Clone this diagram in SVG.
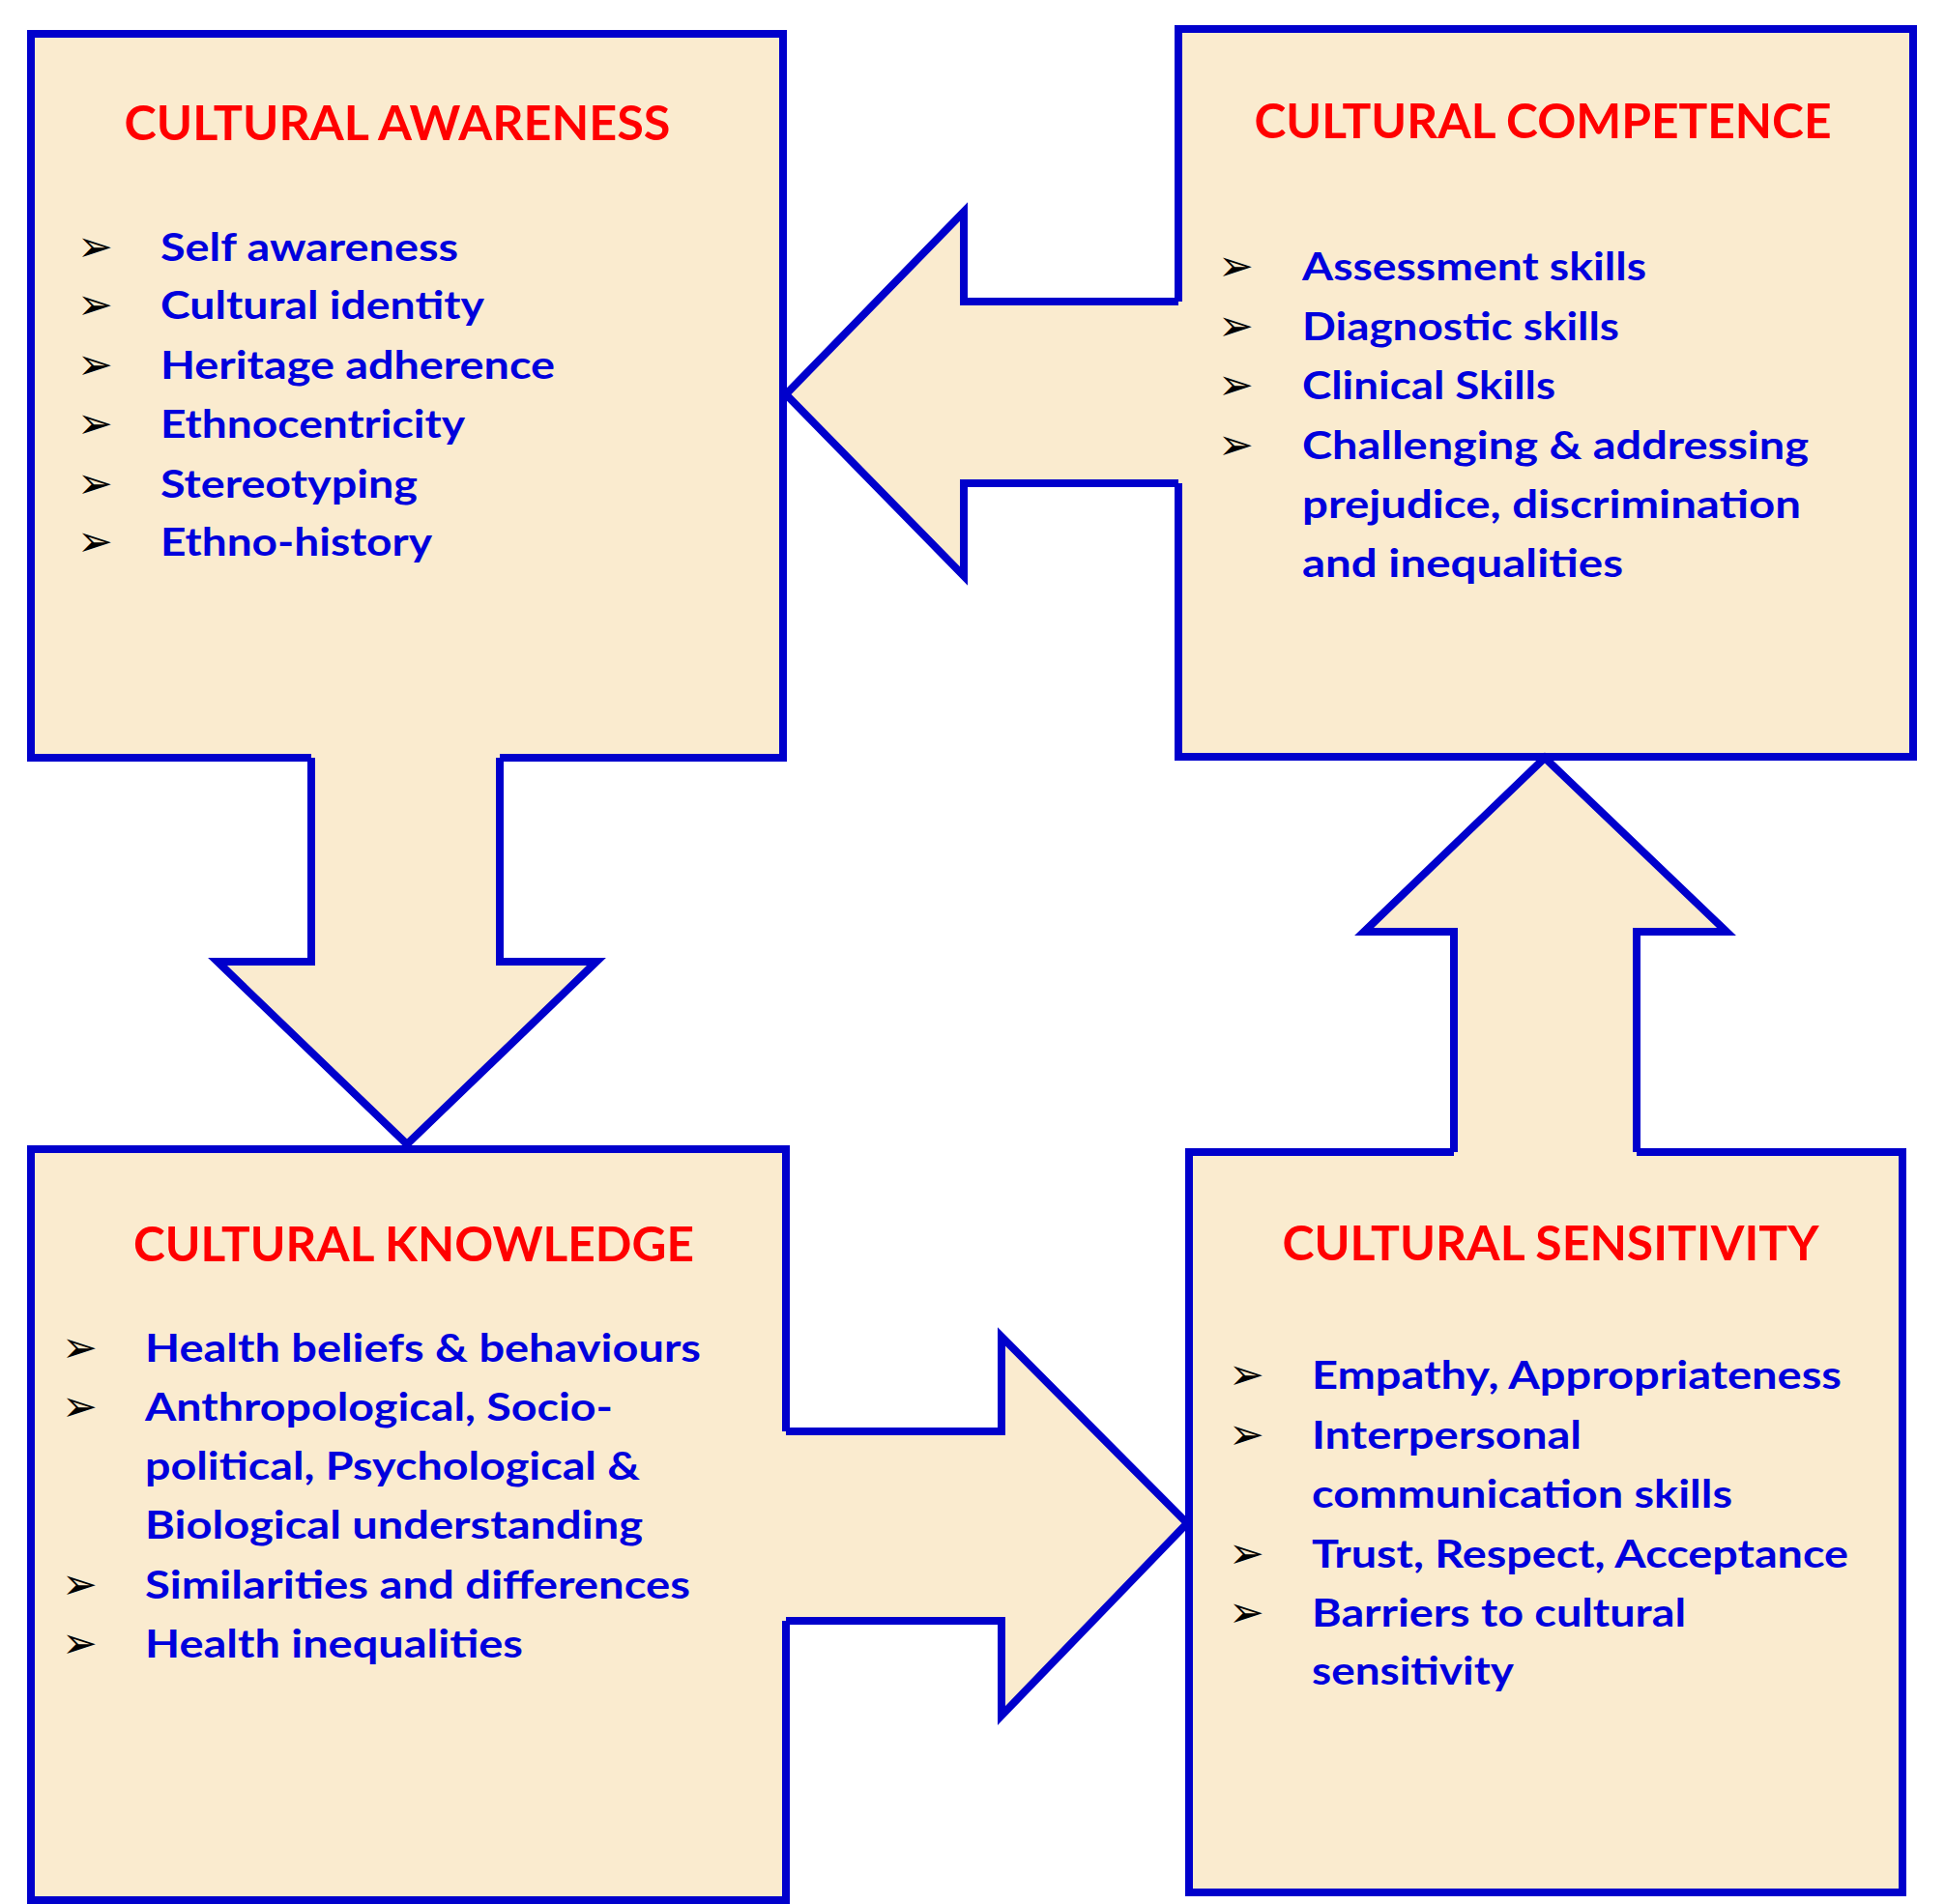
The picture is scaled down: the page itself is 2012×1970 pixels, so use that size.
<svg xmlns="http://www.w3.org/2000/svg" width="2012" height="1970" viewBox="0 0 2012 1970">
<style>
.box{fill:#FAEBCF;stroke:#0000CC;stroke-width:8}
.af{fill:#FAEBCF;stroke:none}
.as{fill:none;stroke:#0000CC;stroke-width:8;stroke-linejoin:miter}
.t{font-family:Lato,"Open Sans",sans-serif;font-weight:bold;font-size:50px;fill:#FF0000;text-anchor:middle}
.i{font-family:Lato,"Open Sans",sans-serif;font-weight:bold;font-size:40px;fill:#0000DD}
.b{font-family:"DejaVu Sans",sans-serif;font-size:44px;fill:#000}
</style>
<rect width="2012" height="1970" fill="#fff"/>
<g id="awareness">
<rect class="box" x="32" y="35" width="778" height="749"/>
<text class="t" x="411" y="145" textLength="565" lengthAdjust="spacingAndGlyphs">CULTURAL AWARENESS</text>
<g class="b"><text x="80" y="270">➢</text><text x="80" y="330">➢</text><text x="80" y="392">➢</text><text x="80" y="453">➢</text><text x="80" y="515">➢</text><text x="80" y="575">➢</text></g>
<text class="i" x="166" y="270" textLength="308" lengthAdjust="spacingAndGlyphs">Self awareness</text>
<text class="i" x="166" y="330" textLength="335" lengthAdjust="spacingAndGlyphs">Cultural identity</text>
<text class="i" x="166" y="392" textLength="408" lengthAdjust="spacingAndGlyphs">Heritage adherence</text>
<text class="i" x="166" y="453" textLength="315" lengthAdjust="spacingAndGlyphs">Ethnocentricity</text>
<text class="i" x="166" y="515" textLength="266" lengthAdjust="spacingAndGlyphs">Stereotyping</text>
<text class="i" x="166" y="575" textLength="281" lengthAdjust="spacingAndGlyphs">Ethno-history</text>
</g>
<g id="competence">
<rect class="box" x="1219" y="30" width="760" height="753"/>
<text class="t" x="1596" y="143" textLength="597" lengthAdjust="spacingAndGlyphs">CULTURAL COMPETENCE</text>
<g class="b"><text x="1260" y="290">➢</text><text x="1260" y="352">➢</text><text x="1260" y="413">➢</text><text x="1260" y="475">➢</text></g>
<text class="i" x="1347" y="290" textLength="356" lengthAdjust="spacingAndGlyphs">Assessment skills</text>
<text class="i" x="1347" y="352" textLength="328" lengthAdjust="spacingAndGlyphs">Diagnostic skills</text>
<text class="i" x="1347" y="413" textLength="262" lengthAdjust="spacingAndGlyphs">Clinical Skills</text>
<text class="i" x="1347" y="475" textLength="524" lengthAdjust="spacingAndGlyphs">Challenging &amp; addressing</text>
<text class="i" x="1347" y="536" textLength="516" lengthAdjust="spacingAndGlyphs">prejudice, discrimination</text>
<text class="i" x="1347" y="597" textLength="332" lengthAdjust="spacingAndGlyphs">and inequalities</text>
</g>
<g id="knowledge">
<rect class="box" x="32" y="1189" width="781" height="777"/>
<text class="t" x="428" y="1305" textLength="580" lengthAdjust="spacingAndGlyphs">CULTURAL KNOWLEDGE</text>
<g class="b"><text x="64" y="1409">➢</text><text x="64" y="1470">➢</text><text x="64" y="1654">➢</text><text x="64" y="1715">➢</text></g>
<text class="i" x="150" y="1409" textLength="575" lengthAdjust="spacingAndGlyphs">Health beliefs &amp; behaviours</text>
<text class="i" x="150" y="1470" textLength="484" lengthAdjust="spacingAndGlyphs">Anthropological, Socio-</text>
<text class="i" x="150" y="1531" textLength="512" lengthAdjust="spacingAndGlyphs">political, Psychological &amp;</text>
<text class="i" x="150" y="1592" textLength="515" lengthAdjust="spacingAndGlyphs">Biological understanding</text>
<text class="i" x="150" y="1654" textLength="564" lengthAdjust="spacingAndGlyphs">Similarities and differences</text>
<text class="i" x="150" y="1715" textLength="391" lengthAdjust="spacingAndGlyphs">Health inequalities</text>
</g>
<g id="sensitivity">
<rect class="box" x="1230" y="1192" width="738" height="766"/>
<text class="t" x="1604" y="1304" textLength="555" lengthAdjust="spacingAndGlyphs">CULTURAL SENSITIVITY</text>
<g class="b"><text x="1271" y="1437">➢</text><text x="1271" y="1499">➢</text><text x="1271" y="1622">➢</text><text x="1271" y="1683">➢</text></g>
<text class="i" x="1357" y="1437" textLength="548" lengthAdjust="spacingAndGlyphs">Empathy, Appropriateness</text>
<text class="i" x="1357" y="1499" textLength="279" lengthAdjust="spacingAndGlyphs">Interpersonal</text>
<text class="i" x="1357" y="1560" textLength="435" lengthAdjust="spacingAndGlyphs">communication skills</text>
<text class="i" x="1357" y="1622" textLength="555" lengthAdjust="spacingAndGlyphs">Trust, Respect, Acceptance</text>
<text class="i" x="1357" y="1683" textLength="387" lengthAdjust="spacingAndGlyphs">Barriers to cultural</text>
<text class="i" x="1357" y="1743" textLength="209" lengthAdjust="spacingAndGlyphs">sensitivity</text>
</g>
<g id="connectors">
<polygon class="af" points="322,775 322,995 225,995 421,1184 617,995 517,995 517,775"/>
<path class="as" d="M322,784 V995 H225 L421,1184 L617,995 H517 V784"/>
<polygon class="af" points="1228,312 997,312 997,219 813,408 997,596 997,500 1228,500"/>
<path class="as" d="M1219,312 H997 V219 L813,408 L997,596 V500 H1219"/>
<polygon class="af" points="804,1481 1036,1481 1036,1383 1228,1576 1036,1775 1036,1677 804,1677"/>
<path class="as" d="M813,1481 H1036 V1383 L1228,1576 L1036,1775 V1677 H813"/>
<polygon class="af" points="1504,1198 1504,964 1411,964 1598,784 1786,964 1693,964 1693,1198"/>
<path class="as" d="M1504,1192 V964 H1411 L1598,784 L1786,964 H1693 V1192"/>
</g>
</svg>
